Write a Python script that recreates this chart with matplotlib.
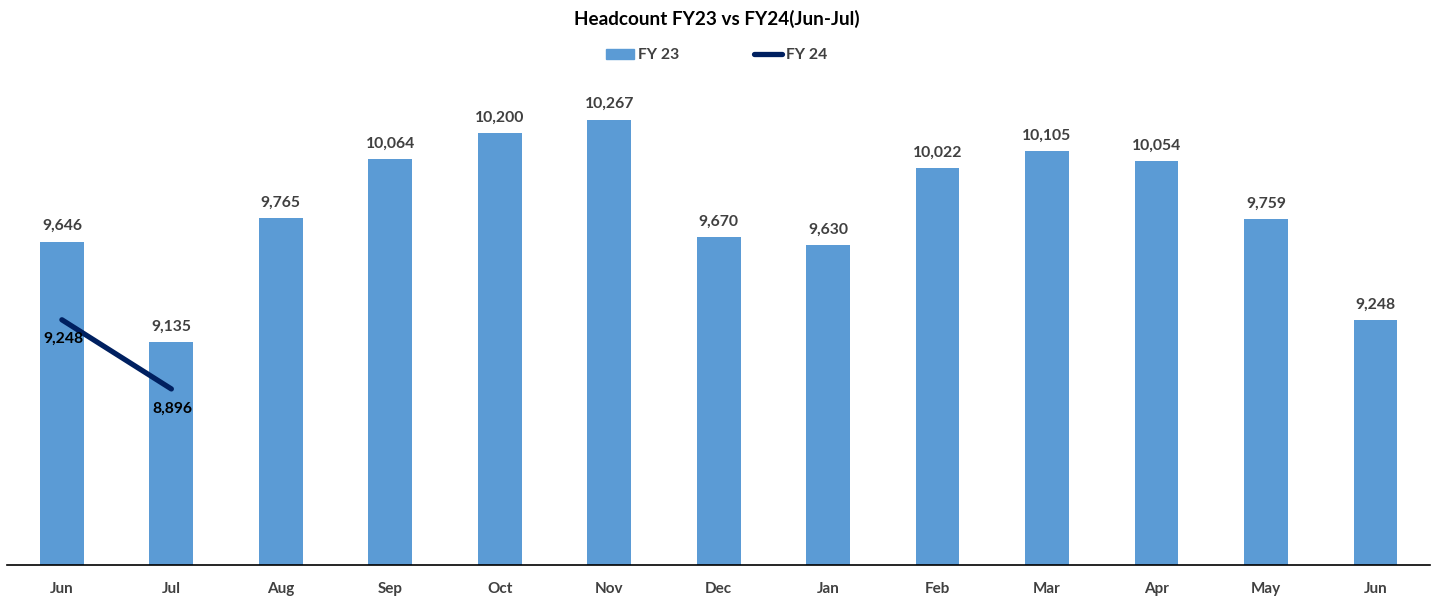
import matplotlib.pyplot as plt
from matplotlib.lines import Line2D
from matplotlib.patches import Patch

plt.rcParams['font.family'] = ['Lato', 'DejaVu Sans']

months = ['Jun', 'Jul', 'Aug', 'Sep', 'Oct', 'Nov', 'Dec', 'Jan', 'Feb', 'Mar', 'Apr', 'May', 'Jun']
fy23 = [9646, 9135, 9765, 10064, 10200, 10267, 9670, 9630, 10022, 10105, 10054, 9759, 9248]
fy24 = [9248, 8896]

bar_color = '#5B9BD5'
line_color = '#002060'

fig = plt.figure(figsize=(14.33, 5.99), dpi=100)
ax = fig.add_axes([0.005, 0.0568, 0.993, 0.82])

x = list(range(len(months)))
ax.bar(x, fy23, width=0.4, color=bar_color, zorder=2)
ax.plot(x[:len(fy24)], fy24, color=line_color, linewidth=3.8, solid_capstyle='round', zorder=3)

for xi, v in zip(x, fy23):
    ax.annotate(f'{v:,}', (xi, v), xytext=(0, 6), textcoords='offset points',
                ha='center', va='bottom', fontsize=11.3, fontweight='bold', color='#404040')
for xi, v in zip(x, fy24):
    ax.annotate(f'{v:,}', (xi, v), xytext=(1, -9), textcoords='offset points',
                ha='center', va='top', fontsize=11.3, fontweight='bold', color='black')

ax.set_xlim(-0.5, len(months) - 0.5)
ax.set_ylim(8000, 10500)
ax.set_xticks(x)
ax.set_xticklabels(months, fontsize=11, fontweight='bold', color='#404040')
ax.tick_params(axis='x', length=0, pad=12)
ax.set_yticks([])
for s in ['top', 'right', 'left']:
    ax.spines[s].set_visible(False)
ax.spines['bottom'].set_color('black')
ax.spines['bottom'].set_linewidth(1.2)

fig.text(0.5, 0.968, 'Headcount FY23 vs FY24(Jun-Jul)', ha='center', va='center',
         fontsize=13.6, fontweight='bold', color='black')

handles = [Patch(color=bar_color, label='FY 23'),
           Line2D([0], [0], color=line_color, linewidth=3.8, solid_capstyle='round', label='FY 24')]
leg = fig.legend(handles=handles, loc='center', bbox_to_anchor=(0.5, 0.908), ncol=2, frameon=False,
                 prop={'weight': 'bold', 'size': 11.3}, handlelength=1.8, handletextpad=0.2,
                 columnspacing=4.8, handleheight=0.6)
for t in leg.get_texts():
    t.set_color('#404040')

fig.savefig('out.png', dpi=100)
